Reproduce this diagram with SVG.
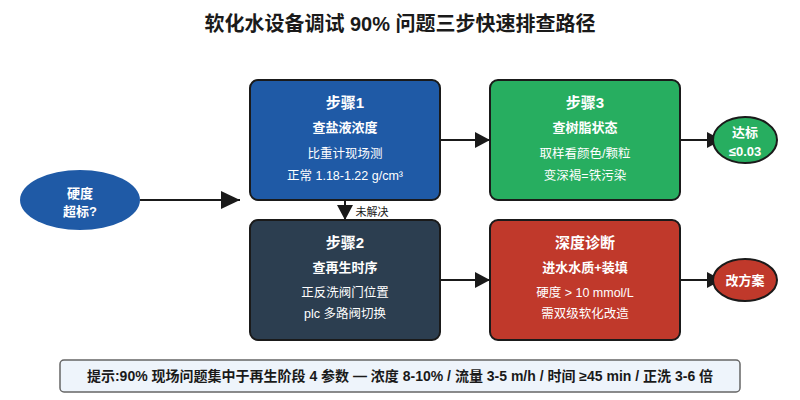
<svg xmlns="http://www.w3.org/2000/svg" width="800" height="400" viewBox="0 0 800 400">
<defs>
<marker id="arrL" markerWidth="20" markerHeight="20" refX="19" refY="10" orient="auto" markerUnits="userSpaceOnUse"><path d="M0,1 L19,10 L0,19 Z" fill="#1a1a1a"/></marker>
<marker id="arrM" markerWidth="16" markerHeight="16" refX="15" refY="8" orient="auto" markerUnits="userSpaceOnUse"><path d="M0,0 L15,8 L0,16 Z" fill="#1a1a1a"/></marker>
</defs>
<style>
text{font-family:"Liberation Sans","Noto Sans CJK SC",sans-serif;fill:#fff;text-anchor:middle}
.box{stroke:#1a1a1a;stroke-width:2}
.h{font-size:15px;font-weight:bold}
.s{font-size:13px;font-weight:bold}
.b{font-size:12.5px}
.c{stroke:#1a1a1a;stroke-width:2;fill:none}
</style>
<rect width="800" height="400" fill="#fff"/>
<text x="400" y="31" style="font-size:20px;font-weight:bold;fill:#1a1a1a">软化水设备调试 90% 问题三步快速排查路径</text>
<g id="connectors">
<line class="c" x1="140" y1="200" x2="240" y2="200" marker-end="url(#arrL)"/>
<line class="c" x1="440" y1="140" x2="490" y2="140" marker-end="url(#arrM)"/>
<line class="c" x1="345" y1="200" x2="345" y2="220" marker-end="url(#arrM)"/>
<text x="372" y="216" style="font-size:11px;fill:#1a1a1a">未解决</text>
<line class="c" x1="440" y1="280" x2="490" y2="280" marker-end="url(#arrM)"/>
<line class="c" x1="680" y1="140" x2="722" y2="140" marker-end="url(#arrM)"/>
<line class="c" x1="680" y1="280" x2="722" y2="280" marker-end="url(#arrM)"/>
</g>
<g id="start">
<ellipse cx="80" cy="200" rx="60" ry="30" fill="#1f5aa6"/>
<text x="80" y="198" class="s">硬度</text>
<text x="80" y="216" class="s">超标?</text>
</g>
<g id="step1">
<rect class="box" x="250" y="80" width="190" height="120" rx="8" fill="#1f5aa6"/>
<text x="345" y="108" class="h">步骤1</text>
<text x="345" y="132" class="s">查盐液浓度</text>
<text x="345" y="158" class="b">比重计现场测</text>
<text x="345" y="180" class="b">正常 1.18-1.22 g/cm³</text>
</g>
<g id="step3">
<rect class="box" x="490" y="80" width="190" height="120" rx="8" fill="#27ae60"/>
<text x="585" y="108" class="h">步骤3</text>
<text x="585" y="132" class="s">查树脂状态</text>
<text x="585" y="158" class="b">取样看颜色/颗粒</text>
<text x="585" y="180" class="b">变深褐=铁污染</text>
</g>
<g id="step2">
<rect class="box" x="250" y="220" width="190" height="120" rx="8" fill="#2c3e50"/>
<text x="345" y="248" class="h">步骤2</text>
<text x="345" y="272" class="s">查再生时序</text>
<text x="345" y="297" class="b">正反洗阀门位置</text>
<text x="345" y="318" class="b">plc 多路阀切换</text>
</g>
<g id="deep">
<rect class="box" x="490" y="220" width="190" height="120" rx="8" fill="#c0392b"/>
<text x="585" y="248" class="h">深度诊断</text>
<text x="585" y="272" class="s">进水水质+装填</text>
<text x="585" y="297" class="b">硬度 &gt; 10 mmol/L</text>
<text x="585" y="318" class="b">需双级软化改造</text>
</g>
<g id="ok">
<ellipse class="box" cx="745" cy="140" rx="32" ry="23" fill="#27ae60"/>
<text x="745" y="137" class="s">达标</text>
<text x="745" y="156" class="s">≤0.03</text>
</g>
<g id="plan">
<ellipse class="box" cx="745" cy="280" rx="32" ry="21" fill="#c0392b"/>
<text x="745" y="285" class="s">改方案</text>
</g>
<g id="note">
<rect x="60" y="360" width="680" height="32" rx="4" fill="#eef4fb" stroke="#666" stroke-width="1.5"/>
<text x="400" y="381" style="font-size:14px;font-weight:bold;fill:#1a1a1a">提示:90% 现场问题集中于再生阶段 4 参数 — 浓度 8-10% / 流量 3-5 m/h / 时间 ≥45 min / 正洗 3-6 倍</text>
</g>
</svg>
